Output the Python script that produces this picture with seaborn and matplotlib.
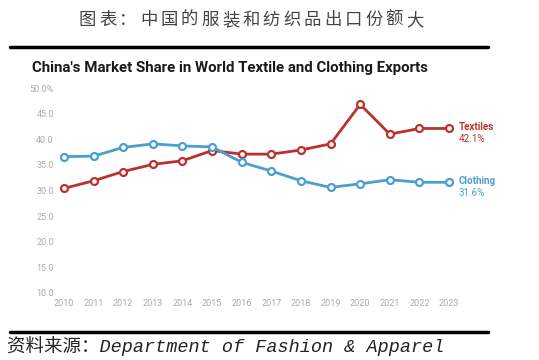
import pandas as pd
import seaborn as sns
import matplotlib.pyplot as plt

# Data (% share of world exports)
years = list(range(2010, 2024))
textiles = [30.4, 31.9, 33.7, 35.1, 35.8, 37.8, 37.1, 37.1, 37.9, 39.1, 46.8, 41.0, 42.1, 42.1]
clothing = [36.6, 36.7, 38.4, 39.1, 38.7, 38.5, 35.5, 33.8, 31.9, 30.6, 31.3, 32.1, 31.6, 31.6]
series_names = ['Textiles', 'Clothing']
series_colors = {'Textiles': '#b8332f', 'Clothing': '#4b9fcf'}
y_ticks = [10, 15, 20, 25, 30, 35, 40, 45, 50]
header = '图表：中国的服装和纺织品出口份额大'

df = pd.DataFrame({'year': years * 2,
                   'share': textiles + clothing,
                   'series': ['Textiles'] * len(years) + ['Clothing'] * len(years)})

sns.set_style('white')
plt.rcParams['font.family'] = ['Roboto', 'Noto Sans CJK SC', 'DejaVu Sans']

W, H = 539, 360
fig = plt.figure(figsize=(W / 100, H / 100), dpi=100)

# header of the report page, spaced out like the original
step = (425 - 77) / len(header)
for i, ch in enumerate(header):
    fig.text((77 + step / 2 + i * step) / W, 1 - 20 / H, ch, ha='center', va='center',
             fontsize=12.5, color='#444444', family=['Noto Sans CJK SC', 'DejaVu Sans'])
fig.add_artist(plt.Line2D([10 / W, 488 / W], [1 - 46.5 / H, 1 - 46.5 / H],
                          color='black', lw=2.5))
fig.add_artist(plt.Line2D([10 / W, 488 / W], [1 - 331.5 / H, 1 - 331.5 / H],
                          color='black', lw=2.5))
fig.text(7 / W, 1 - 346 / H, '资料来源：Department of Fashion & Apparel', ha='left',
         va='center', fontsize=13.3, style='italic', color='#222222',
         family=['Liberation Mono', 'Noto Sans CJK SC'])

# chart title
fig.text(32 / W, 1 - 68 / H, "China's Market Share in World Textile and Clothing Exports",
         ha='left', va='center', fontsize=10.8, fontweight='bold', color='#1a1a1a')

ax = fig.add_axes([58 / W, 1 - 293 / H, (455 - 58) / W, (293 - 88) / H])
for name in series_names:
    sns.lineplot(data=df[df['series'] == name], x='year', y='share', ax=ax,
                 color=series_colors[name], lw=2, marker='o', markersize=5,
                 markerfacecolor='white', markeredgecolor=series_colors[name],
                 markeredgewidth=1.6, legend=False, clip_on=False)

ax.set_xlim(2009.8, 2023.2)
ax.set_ylim(10, 50)
ax.set_xticks(years)
ax.set_xticklabels([str(y) for y in years])
ax.set_yticks(y_ticks)
ax.set_yticklabels([f'{v:.1f}%' if v == 50 else f'{v:.1f}' for v in y_ticks])
ax.tick_params(axis='both', length=0, labelsize=6.5, labelcolor='#aaaaaa')
ax.tick_params(axis='x', pad=4)
ax.tick_params(axis='y', pad=3)
ax.set_xlabel('')
ax.set_ylabel('')
for s in ax.spines.values():
    s.set_visible(False)

# end labels
last = {'Textiles': textiles[-1], 'Clothing': clothing[-1]}
for name in series_names:
    ax.annotate(name, xy=(years[-1], last[name]), xytext=(7, 1), textcoords='offset points',
                ha='left', va='center', fontsize=7, fontweight='bold',
                color=series_colors[name], annotation_clip=False)
    ax.annotate(f'{last[name]:.1f}%', xy=(years[-1], last[name]), xytext=(7, -7.5),
                textcoords='offset points', ha='left', va='center', fontsize=7,
                color=series_colors[name], annotation_clip=False)

fig.savefig('out.png', dpi=100)
